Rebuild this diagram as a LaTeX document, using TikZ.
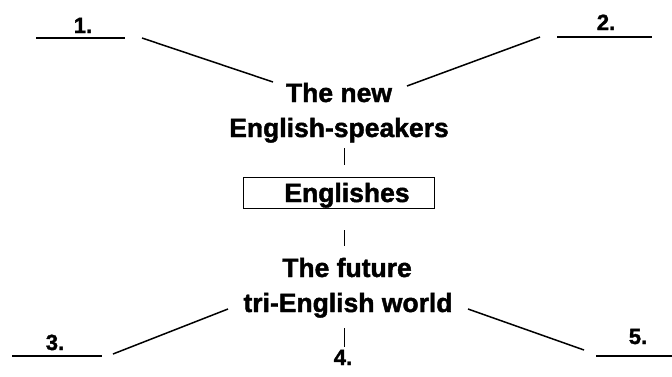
\documentclass[tikz,border=0pt]{standalone}
\usepackage{fontspec}
\setmainfont{Liberation Sans}
\newfontface\heavy{Liberation Sans Bold}[FakeBold=1.6]
\begin{document}
\begin{tikzpicture}[x=1pt,y=-1pt,
  main/.style={font=\fontsize{26.5}{30}\selectfont\heavy, inner sep=0pt, anchor=base},
  num/.style={font=\fontsize{22}{26}\selectfont\heavy, inner sep=0pt, anchor=base},
  link/.style={line width=1.5pt},
  rule/.style={line width=1.5pt},
  tick/.style={line width=0.9pt}]
\useasboundingbox (0,0) rectangle (672,376);
% central texts
\node[main] (new1) at (339,102) {The new};
\node[main] (new2) at (339,137) {English-speakers};
\node[main] (eng) at (347,202) {Englishes};
\node[draw, line width=0.9pt, minimum width=191pt, minimum height=31pt, inner sep=0pt] (box) at (338.5,192.5) {};
\node[main] (fut1) at (347,277) {The future};
\node[main] (fut2) at (348,312) {tri-English world};
% numbers
\node[num] (n1) at (83,33) {1.};
\node[num] (n2) at (606,30) {2.};
\node[num] (n3) at (55,350) {3.};
\node[num] (n4) at (343,365) {4.};
\node[num] (n5) at (638,344) {5.};
% underline endpoints
\coordinate (u1a) at (36,38);  \coordinate (u1b) at (125,38);
\coordinate (u2a) at (557,37); \coordinate (u2b) at (652,37);
\coordinate (u3a) at (12,356); \coordinate (u3b) at (102,356);
\coordinate (u5a) at (596,356); \coordinate (u5b) at (672,356);
\draw[rule] (u1a) -- (u1b);
\draw[rule] (u2a) -- (u2b);
\draw[rule] (u3a) -- (u3b);
\draw[rule] (u5a) -- (u5b);
% diagonal connectors
\coordinate (d1a) at (142,38);  \coordinate (d1b) at (273,82);
\coordinate (d2a) at (407,86);  \coordinate (d2b) at (540,37);
\coordinate (d3a) at (113,354); \coordinate (d3b) at (228,309);
\coordinate (d5a) at (468,309); \coordinate (d5b) at (584,350);
\draw[link] (d1a) -- (d1b);
\draw[link] (d2a) -- (d2b);
\draw[link] (d3a) -- (d3b);
\draw[link] (d5a) -- (d5b);
% vertical ticks
\coordinate (t1a) at (344,148); \coordinate (t1b) at (344,165);
\coordinate (t2a) at (344,230); \coordinate (t2b) at (344,246);
\coordinate (t3a) at (344,328); \coordinate (t3b) at (344,347);
\draw[tick] (t1a) -- (t1b);
\draw[tick] (t2a) -- (t2b);
\draw[tick] (t3a) -- (t3b);
\end{tikzpicture}
\end{document}
